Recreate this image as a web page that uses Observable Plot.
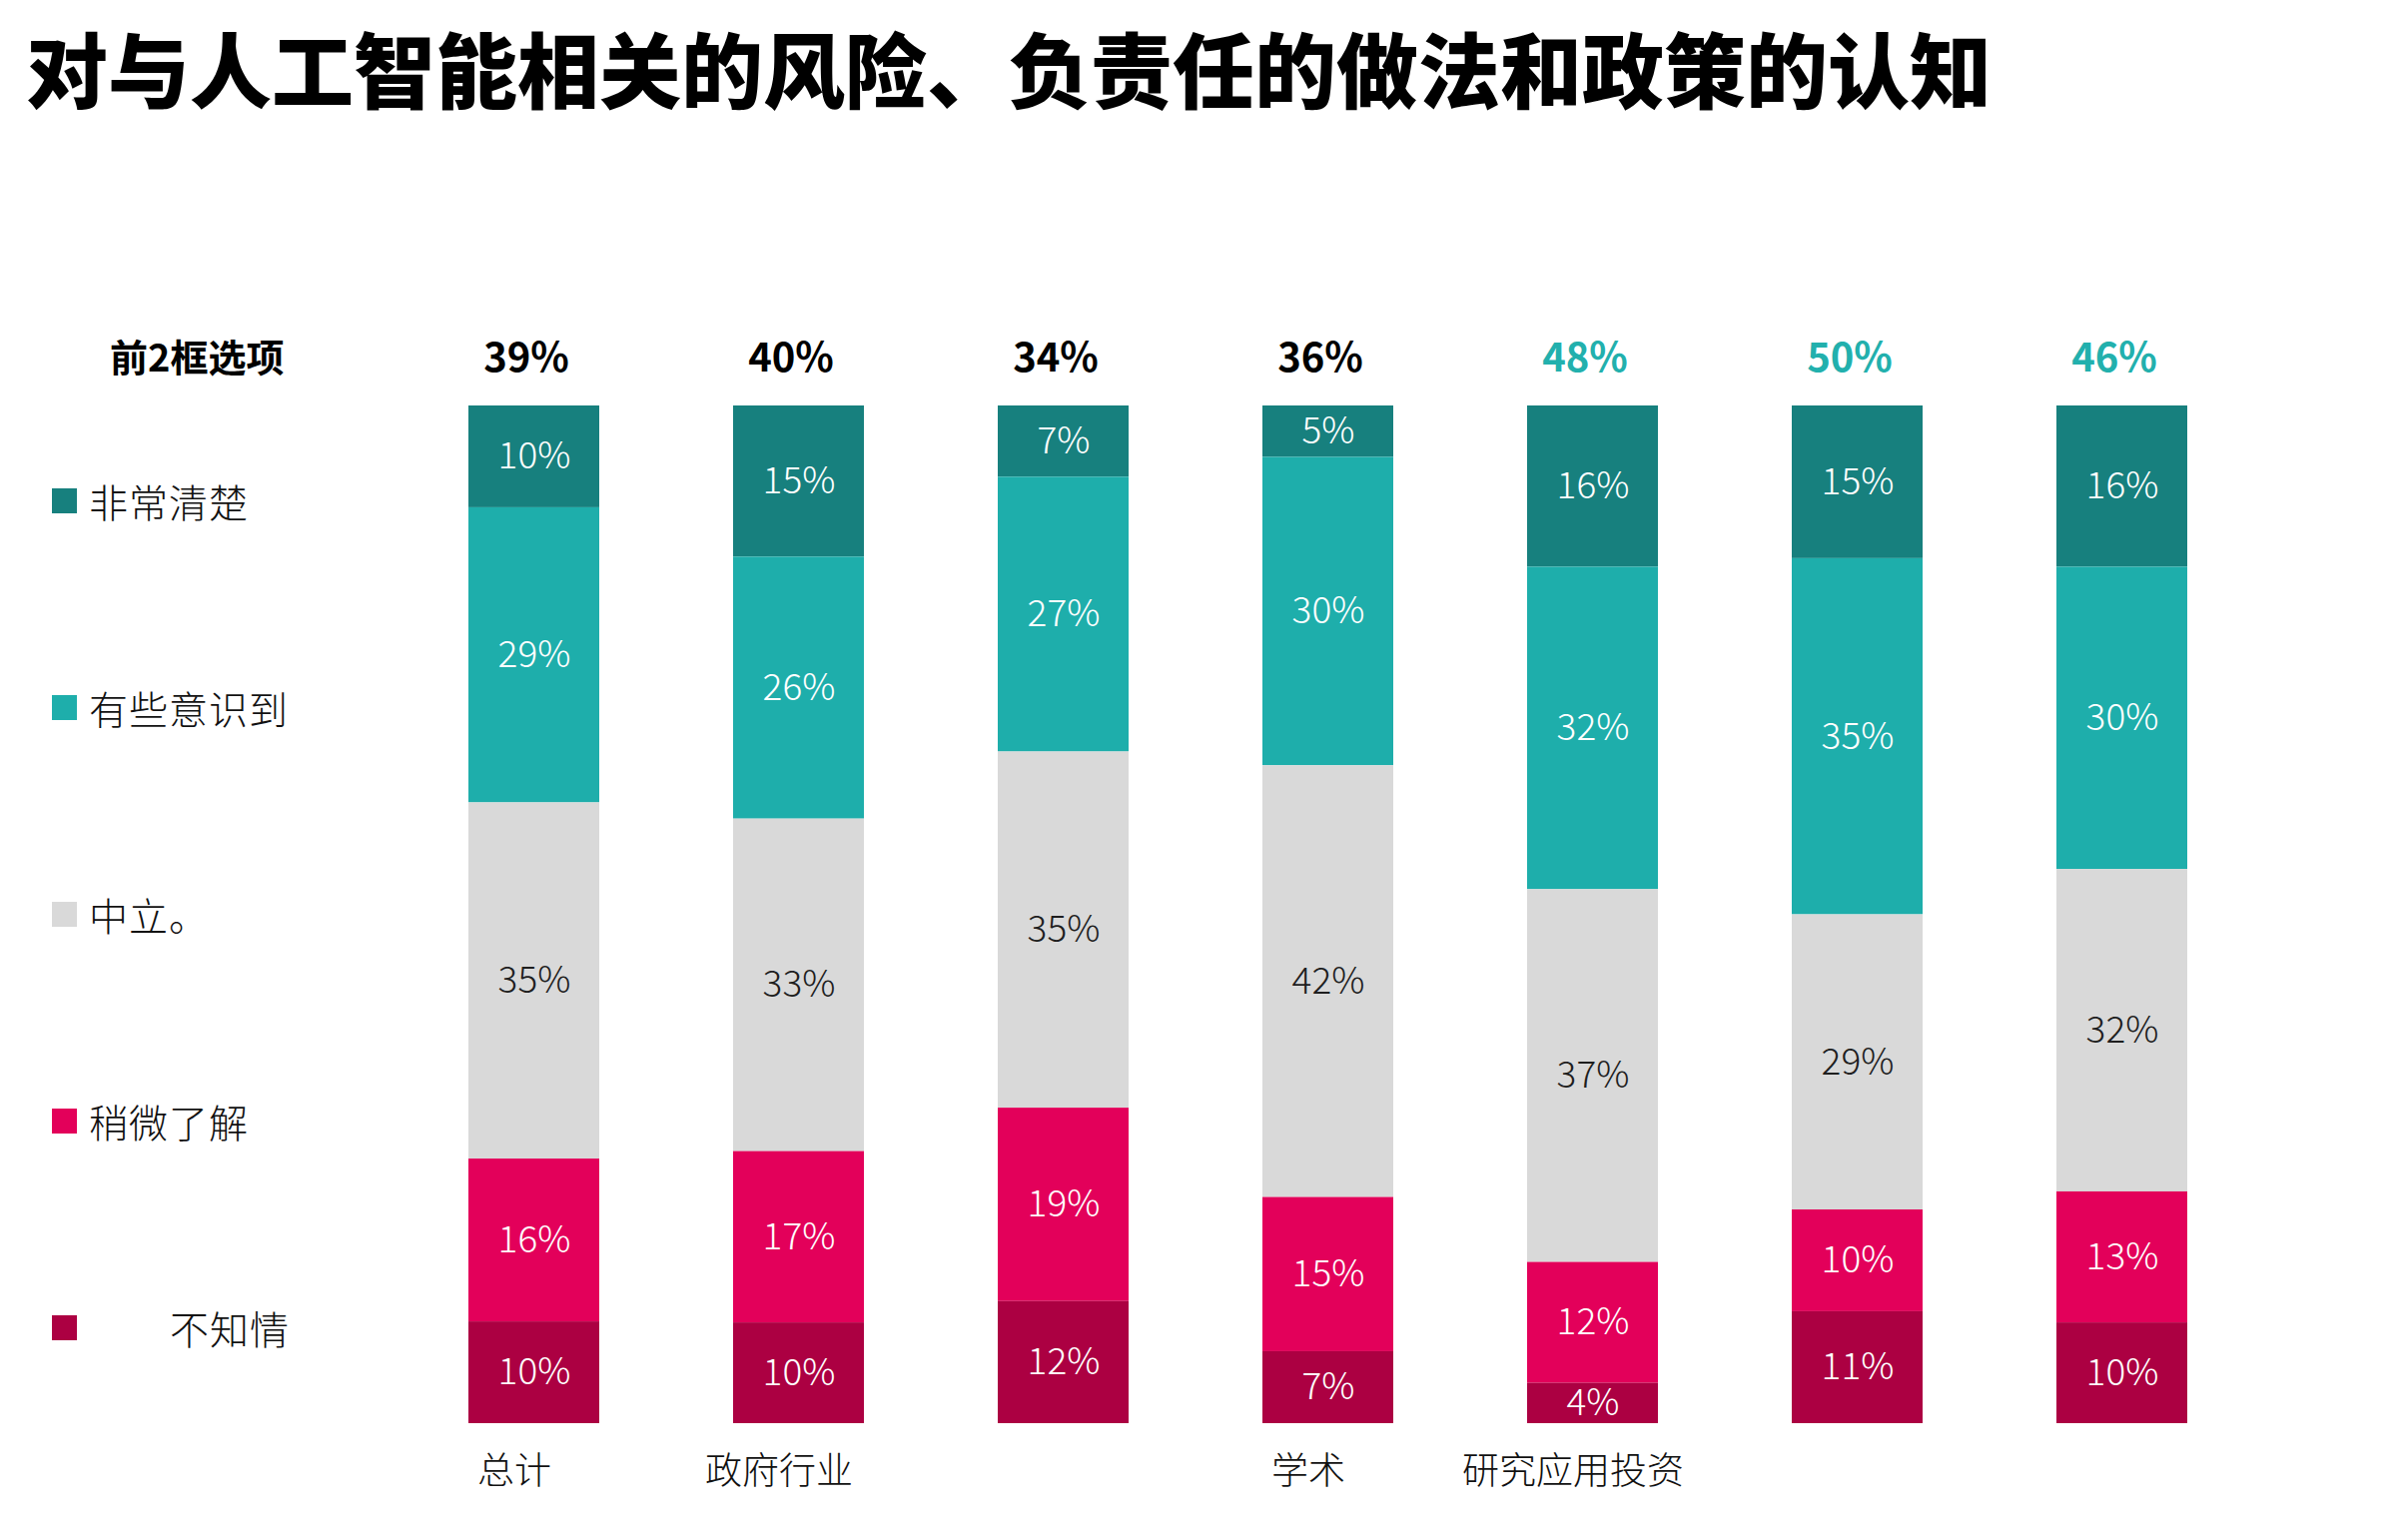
<!DOCTYPE html>
<html>
<head>
<meta charset="utf-8">
<script src="https://cdn.jsdelivr.net/npm/d3@7"></script>
<script src="https://cdn.jsdelivr.net/npm/@observablehq/plot@0.6"></script>
<style>
  html, body { margin: 0; padding: 0; background: #fff; }
  body { width: 2403px; height: 1542px; position: relative; overflow: hidden;
         font-family: "Noto Sans CJK SC", "Noto Sans", sans-serif; }
  #title { position: absolute; left: 26px; top: 22px; font-size: 82px; font-weight: 900;
           line-height: 90px; color: #000; white-space: nowrap; }
  #chart { position: absolute; left: 0; top: 300px; }
  #legendHead { position: absolute; left: 110px; top: 330px; font-size: 38px; font-weight: 700;
                line-height: 52px; color: #000; }
  #legend { position: absolute; left: 52px; top: 476px; display: flex; flex-direction: column; gap: 157px; }
  #legend .item { display: flex; align-items: center; height: 50px; }
  #legend .sw { width: 25px; height: 25px; flex: none; }
  #legend .lab { margin-left: 12px; font-size: 39px; letter-spacing: 1px; font-weight: 300; color: #111; line-height: 50px; }
  #legend .item:last-child .lab { margin-left: 93px; }
</style>
</head>
<body>
<div id="title"></div>
<div id="legendHead"></div>
<div id="legend"></div>
<div id="chart"></div>
<script>
// ---- data ----
const titleText = "对与人工智能相关的风险、负责任的做法和政策的认知";
const legendTitle = "前2框选项";
const categories = ["总计", "政府行业", "", "学术", "研究应用投资", "", ""];
const series = ["非常清楚", "有些意识到", "中立。", "稍微了解", "不知情"];
const veryClear = [10, 15, 7, 5, 16, 15, 16];
const somewhatAware = [29, 26, 27, 30, 32, 35, 30];
const neutral = [35, 33, 35, 42, 37, 29, 32];
const slightly = [16, 17, 19, 15, 12, 10, 13];
const unaware = [10, 10, 12, 7, 4, 11, 10];
const top2 = [39, 40, 34, 36, 48, 50, 46];

// ---- styles ----
const colors = ["#17807e", "#1eaeab", "#d9d9d9", "#e3005a", "#ac0042"];
const topTeal = "#22b0ad";

const valuesBySeries = [veryClear, somewhatAware, neutral, slightly, unaware];
const rows = [];
series.forEach((s, k) => valuesBySeries[k].forEach((v, i) => rows.push({idx: i, series: s, value: v})));
const stackOrder = series.slice().reverse();
const tops = top2.map((v, i) => ({idx: i, v}));
const cats = categories.map((c, i) => ({idx: i, c}));

document.getElementById("title").textContent = titleText;
document.getElementById("legendHead").textContent = legendTitle;
const leg = document.getElementById("legend");
series.forEach((s, k) => {
  const it = document.createElement("div");
  it.className = "item";
  it.innerHTML = `<span class="sw" style="background:${colors[k]}"></span><span class="lab">${s}</span>`;
  leg.appendChild(it);
});

const stackOpts = {x: "idx", y: "value", z: "series", order: stackOrder, offset: "normalize"};

const chart = Plot.plot({
  width: 2403,
  height: 1242,
  marginLeft: 332,
  marginRight: 76,
  marginTop: 106,
  marginBottom: 117,
  style: {fontFamily: '"Noto Sans CJK SC", "Noto Sans", sans-serif', background: "transparent", overflow: "visible"},
  x: {domain: d3.range(categories.length), padding: 0.507, axis: null},
  y: {domain: [0, 1], axis: null},
  color: {domain: series, range: colors},
  marks: [
    Plot.barY(rows, Plot.stackY({...stackOpts, fill: "series"})),
    Plot.text(rows, Plot.filter(d => d.series !== "中立。",
      Plot.stackY({...stackOpts, text: d => d.value + "%", fill: "white", fontSize: 37, fontWeight: 300}))),
    Plot.text(rows, Plot.filter(d => d.series === "中立。",
      Plot.stackY({...stackOpts, text: d => d.value + "%", fill: "#1e1e1e", fontSize: 37, fontWeight: 300}))),
    Plot.text(tops, Plot.filter(d => d.idx < 4, {x: "idx", text: d => d.v + "%", frameAnchor: "top", dy: -63, dx: -8,
      fontSize: 40, fontWeight: 700, fill: "#000"})),
    Plot.text(tops, Plot.filter(d => d.idx >= 4, {x: "idx", text: d => d.v + "%", frameAnchor: "top", dy: -63, dx: -8,
      fontSize: 40, fontWeight: 700, fill: topTeal})),
    Plot.text(cats, {x: "idx", text: "c", frameAnchor: "bottom", dy: 60, dx: -20,
      fontSize: 37, fontWeight: 300, fill: "#111"})
  ]
});
document.getElementById("chart").appendChild(chart);
</script>
</body>
</html>
